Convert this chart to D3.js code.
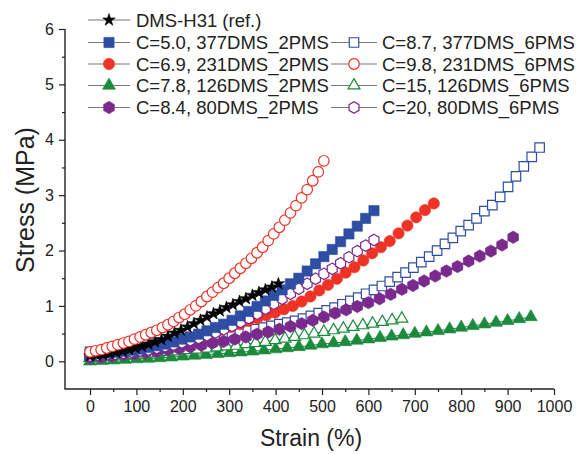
<!DOCTYPE html>
<html><head><meta charset="utf-8">
<script src="https://cdn.jsdelivr.net/npm/d3@7"></script>
<style>body{margin:0;background:#fff}svg{display:block;font-family:"Liberation Sans",Arial,sans-serif}</style>
</head><body><svg id="c" width="579" height="454"></svg>
<script>
// ---- data (strain %, stress MPa) ----
const dmsStrain = [0,14,28,42,56,70,84,98,112,126,140,154,168,182,196,210,224,238,252,266,280,294,308,322,336,350,364,378,392,406];
const dmsStress = [0.10,0.11,0.12,0.14,0.16,0.18,0.21,0.24,0.27,0.31,0.35,0.39,0.45,0.51,0.56,0.62,0.68,0.74,0.80,0.86,0.91,0.97,1.02,1.08,1.13,1.19,1.24,1.29,1.34,1.40];

const c50Strain = [0,18,36,54,72,90,108,126,144,162,180,198,216,234,252,270,288,306,324,342,360,378,396,414,432,450,468,486,504,522,540,558,576,594,612];
const c50Stress = [0.13,0.14,0.15,0.16,0.18,0.20,0.22,0.25,0.28,0.31,0.35,0.40,0.44,0.49,0.55,0.61,0.67,0.74,0.82,0.90,0.99,1.09,1.19,1.29,1.40,1.50,1.63,1.76,1.89,2.02,2.16,2.30,2.44,2.58,2.72];

const c87Strain = [0,17,34,51,68,85,102,119,136,153,170,187,204,221,238,255,272,289,306,323,340,357,374,391,408,425,442,459,476,493,510,527,544,561,578,595,612,629,646,663,680,697,714,731,748,765,782,799,816,833,850,867,884,901,918,935,952,969];
const c87Stress = [0.17,0.18,0.20,0.22,0.24,0.26,0.28,0.30,0.32,0.34,0.36,0.38,0.40,0.42,0.44,0.46,0.48,0.50,0.52,0.54,0.56,0.58,0.61,0.64,0.67,0.70,0.73,0.77,0.82,0.87,0.92,0.97,1.03,1.09,1.15,1.22,1.29,1.36,1.44,1.52,1.60,1.69,1.79,1.89,2.00,2.12,2.23,2.35,2.46,2.58,2.71,2.82,2.97,3.15,3.34,3.52,3.69,3.86];

const c69Strain = [0,19,38,57,76,95,114,133,152,171,190,209,228,247,266,285,304,323,342,361,380,399,418,437,456,475,494,513,532,551,570,589,608,627,646,665,684,703,722,741];
const c69Stress = [0.12,0.13,0.15,0.17,0.19,0.21,0.24,0.26,0.29,0.32,0.35,0.39,0.43,0.47,0.52,0.57,0.62,0.67,0.73,0.78,0.83,0.88,0.94,1.00,1.08,1.17,1.28,1.38,1.49,1.60,1.70,1.82,1.95,2.06,2.17,2.31,2.45,2.60,2.73,2.85];

const c98Strain = [0,12,24,36,48,60,72,84,96,108,120,132,144,156,168,180,192,204,216,228,240,252,264,276,288,300,312,324,336,348,360,372,384,396,408,420,432,444,456,468,480,492,504];
const c98Stress = [0.17,0.19,0.21,0.24,0.27,0.30,0.33,0.36,0.40,0.44,0.48,0.52,0.56,0.61,0.66,0.72,0.79,0.85,0.93,1.00,1.08,1.17,1.25,1.33,1.41,1.50,1.59,1.68,1.77,1.86,1.96,2.06,2.18,2.30,2.42,2.55,2.68,2.81,2.95,3.10,3.26,3.42,3.62];

const c78Strain = [0,25,50,75,100,125,150,175,200,225,250,275,300,325,350,375,400,425,450,475,500,525,550,575,600,625,650,675,700,725,750,775,800,825,850,875,900,925,950];
const c78Stress = [0.00,0.01,0.02,0.03,0.04,0.05,0.06,0.075,0.09,0.105,0.12,0.135,0.15,0.165,0.18,0.20,0.22,0.24,0.26,0.285,0.31,0.33,0.35,0.375,0.40,0.425,0.45,0.475,0.50,0.525,0.55,0.58,0.61,0.64,0.67,0.70,0.73,0.765,0.80];

const c15Strain = [0,21,42,63,84,105,126,147,168,189,210,231,252,273,294,315,336,357,378,399,420,441,462,483,504,525,546,567,588,609,630,651,672];
const c15Stress = [0.06,0.07,0.08,0.10,0.11,0.12,0.14,0.15,0.17,0.18,0.20,0.21,0.23,0.25,0.27,0.28,0.31,0.33,0.35,0.38,0.41,0.44,0.47,0.50,0.53,0.56,0.59,0.62,0.65,0.68,0.71,0.74,0.77];

const c84Strain = [0,24,48,72,96,120,144,168,192,216,240,264,288,312,336,360,384,408,432,456,480,504,528,552,576,600,624,648,672,696,720,744,768,792,816,840,864,888,912];
const c84Stress = [0.07,0.08,0.10,0.12,0.14,0.16,0.18,0.21,0.23,0.26,0.29,0.33,0.36,0.40,0.44,0.49,0.53,0.58,0.63,0.68,0.74,0.80,0.87,0.93,0.99,1.06,1.13,1.21,1.30,1.37,1.45,1.54,1.63,1.71,1.81,1.90,1.99,2.10,2.24];

const c20Strain = [0,18,36,54,72,90,108,126,144,162,180,198,216,234,252,270,288,306,324,342,360,378,396,414,432,450,468,486,504,522,540,558,576,594,612];
const c20Stress = [0.10,0.11,0.12,0.13,0.15,0.17,0.19,0.21,0.24,0.27,0.30,0.34,0.38,0.42,0.47,0.52,0.58,0.64,0.71,0.78,0.86,0.95,1.04,1.13,1.22,1.31,1.40,1.49,1.58,1.67,1.77,1.88,1.99,2.09,2.19];

const xTicks = [0,100,200,300,400,500,600,700,800,900,1000];
const yTicks = [0,1,2,3,4,5,6];

const labels = ["DMS-H31 (ref.)","C=5.0, 377DMS_2PMS","C=8.7, 377DMS_6PMS","C=6.9, 231DMS_2PMS","C=9.8, 231DMS_6PMS","C=7.8, 126DMS_2PMS","C=15, 126DMS_6PMS","C=8.4, 80DMS_2PMS","C=20, 80DMS_6PMS"];

// ---- styling ----
const BLUE="#2e4ea3", RED="#ee3326", GREEN="#1c8a3c", PURPLE="#7a2a8c", BLACK="#000";
const zip=(xs,ys)=>xs.map((x,i)=>({x,y:ys[i]}));
const series = {
  dms:{label:labels[0], data:zip(dmsStrain,dmsStress), color:BLACK, shape:"star", open:false},
  c50:{label:labels[1], data:zip(c50Strain,c50Stress), color:BLUE, shape:"square", open:false},
  c87:{label:labels[2], data:zip(c87Strain,c87Stress), color:BLUE, shape:"square", open:true},
  c69:{label:labels[3], data:zip(c69Strain,c69Stress), color:RED, shape:"circle", open:false},
  c98:{label:labels[4], data:zip(c98Strain,c98Stress), color:RED, shape:"circle", open:true},
  c78:{label:labels[5], data:zip(c78Strain,c78Stress), color:GREEN, shape:"triangle", open:false},
  c15:{label:labels[6], data:zip(c15Strain,c15Stress), color:GREEN, shape:"triangle", open:true},
  c84:{label:labels[7], data:zip(c84Strain,c84Stress), color:PURPLE, shape:"hexagon", open:false},
  c20:{label:labels[8], data:zip(c20Strain,c20Stress), color:PURPLE, shape:"hexagon", open:true}
};
const drawOrder = ["c87","c78","c15","c84","c69","c20","c50","dms","c98"];

const svg = d3.select("#c");
const x = d3.scaleLinear().domain([-55,1000]).range([64.5,554]);
const y = d3.scaleLinear().domain([-0.5,6]).range([389,29]);

const hexagon = {draw(ctx,size){const r=Math.sqrt(size/2.598);for(let i=0;i<6;i++){const a=Math.PI/3*i-Math.PI/2;const px=r*Math.cos(a),py=r*Math.sin(a);i?ctx.lineTo(px,py):ctx.moveTo(px,py);}ctx.closePath();}};
function symPath(shape, open){
  const m = {
    square:[d3.symbolSquare, open?90:105],
    circle:[d3.symbolCircle, open?88:100],
    triangle:[d3.symbolTriangle, open?62:72],
    star:[d3.symbolStar, 48],
    hexagon:[hexagon, open?85:100]
  }[shape];
  return d3.symbol().type(m[0]).size(m[1])();
}
function drawMarker(g, s, cx, cy){
  g.append("path").attr("d", symPath(s.shape, s.open))
   .attr("transform", `translate(${cx},${cy})`)
   .attr("fill", s.open ? "#fff" : s.color)
   .attr("stroke", s.color)
   .attr("stroke-width", s.open ? 1.2 : 0.6);
}

// ---- series ----
const line = d3.line().x(d=>x(d.x)).y(d=>y(d.y));
const plot = svg.append("g");
drawOrder.forEach(k=>{
  const s = series[k];
  const g = plot.append("g");
  g.append("path").attr("d", line(s.data)).attr("fill","none").attr("stroke", s.color).attr("stroke-width",1);
  s.data.forEach(d=>drawMarker(g, s, x(d.x), y(d.y)));
});

// ---- axes ----
const AX="#222";
const xAxis = svg.append("g").attr("transform","translate(0,389)");
xAxis.call(d3.axisBottom(x).tickValues(xTicks).tickSize(6).tickPadding(6).tickFormat(d3.format("d")));
const xMinor = svg.append("g").attr("transform","translate(0,389)");
xMinor.call(d3.axisBottom(x).tickValues([50,150,250,350,450,550,650,750,850,950]).tickSize(3).tickFormat(""));
xMinor.select(".domain").remove();
const yAxis = svg.append("g").attr("transform","translate(65,0)");
yAxis.call(d3.axisLeft(y).tickValues(yTicks).tickSize(6).tickPadding(5).tickFormat(d3.format("d")));
const yMinor = svg.append("g").attr("transform","translate(65,0)");
yMinor.call(d3.axisLeft(y).tickValues([0.5,1.5,2.5,3.5,4.5,5.5]).tickSize(3).tickFormat(""));
yMinor.select(".domain").remove();
svg.selectAll(".domain").attr("stroke",AX).attr("stroke-width",1.4);
svg.selectAll(".tick line").attr("stroke",AX).attr("stroke-width",1.2);
svg.selectAll(".tick text").attr("font-size",16).attr("fill","#222").attr("font-family","Liberation Sans, Arial, sans-serif");
xAxis.selectAll(".domain").attr("d","M64.5,0H554");
yAxis.selectAll(".domain").attr("d","M0,29V389");

svg.append("text").attr("x",311).attr("y",446).attr("text-anchor","middle")
  .attr("font-size",23).attr("fill","#222").text("Strain (%)");
svg.append("text").attr("transform","translate(34,200) rotate(-90)").attr("text-anchor","middle")
  .attr("font-size",25).attr("fill","#222").text("Stress (MPa)");

// ---- legend ----
const legendRows = [["dms",null],["c50","c87"],["c69","c98"],["c78","c15"],["c84","c20"]];
const rowY = [20,42.5,64,85.5,107.5];
const cols = [{x0:88,x1:130,mx:109,tx:136},{x0:331,x1:377,mx:354,tx:382}];
const lg = svg.append("g");
legendRows.forEach((row,i)=>{
  row.forEach((k,j)=>{
    if(!k) return;
    const s=series[k], c=cols[j], cy=rowY[i];
    lg.append("line").attr("x1",c.x0).attr("x2",c.x1).attr("y1",cy).attr("y2",cy).attr("stroke","#777").attr("stroke-width",1.2);
    drawMarker(lg, s, c.mx, cy);
    lg.append("text").attr("x",c.tx).attr("y",cy+6.5).attr("font-size",18.5).attr("fill","#222").text(s.label);
  });
});
</script></body></html>
